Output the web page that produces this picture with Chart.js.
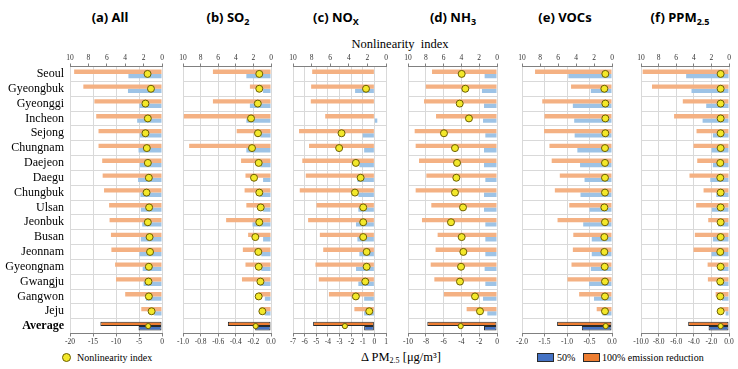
<!DOCTYPE html>
<html><head><meta charset="utf-8">
<script src="https://cdn.jsdelivr.net/npm/chart.js@4.4.1/dist/chart.umd.min.js"></script>
<style>
html,body{margin:0;padding:0;background:#fff;}
#wrap{position:relative;width:738px;height:369px;overflow:hidden;background:#fff;}
canvas{position:absolute;}
.t{position:absolute;white-space:nowrap;line-height:1;}
.title{font-family:'Noto Sans',sans-serif;font-weight:bold;font-size:13px;transform:translate(-50%,-50%);color:#000;}
.title sub{font-size:9px;vertical-align:-3px;line-height:0;}
.serif{font-family:'Liberation Serif',serif;color:#000;}
.mid{transform:translate(-50%,-50%);}
.vmid{transform:translateY(-50%);}
</style></head><body>
<div id="wrap">
  <div class="t title" style="left:110px;top:17px">(a) All</div>
  <div class="t title" style="left:228px;top:17px">(b) SO<sub>2</sub></div>
  <div class="t title" style="left:336px;top:17px">(c) NO<sub>X</sub></div>
  <div class="t title" style="left:453px;top:17px">(d) NH<sub>3</sub></div>
  <div class="t title" style="left:565px;top:17px">(e) VOCs</div>
  <div class="t title" style="left:680px;top:17px">(f) PPM<sub>2.5</sub></div>
  <div class="t serif mid" style="left:400px;top:44px;font-size:12.5px">Nonlinearity&nbsp; index</div>
  <div class="t serif mid" style="left:401px;top:357px;font-size:12.5px">Δ PM<sub style="font-size:8px;vertical-align:-2px;line-height:0">2.5</sub> [μg/m³]</div>
  <div class="t" style="left:62px;top:353px;width:7px;height:7px;border-radius:50%;background:#f3e82a;border:1px solid #6b5e00"></div>
  <div class="t serif vmid" style="left:77px;top:357.5px;font-size:10px">Nonlinearity index</div>
  <div class="t" style="left:537px;top:353px;width:15px;height:7px;background:#4472C4;border:1px solid #2a2a2a"></div>
  <div class="t serif vmid" style="left:557px;top:357.5px;font-size:10px">50%</div>
  <div class="t" style="left:583px;top:353px;width:15px;height:7px;background:#ED7D31;border:1px solid #2a2a2a"></div>
  <div class="t serif vmid" style="left:602px;top:357.5px;font-size:10px">100% emission reduction</div>
</div>
<script>
const regions = ['Seoul','Gyeongbuk','Gyeonggi','Incheon','Sejong','Chungnam','Daejeon','Daegu','Chungbuk','Ulsan','Jeonbuk','Busan','Jeonnam','Gyeongnam','Gwangju','Gangwon','Jeju','Average'];

const niTicks = [0,2,4,6,8,10];

const allFull = [-19.1,-17.1,-14.7,-14.3,-13.8,-13.8,-13.0,-12.9,-12.6,-11.5,-11.4,-11.1,-11.0,-10.2,-10.0,-8.0,-4.5,-13.4];
const allHalf = [-7.3,-7.4,-4.9,-5.4,-4.8,-5.1,-4.8,-5.2,-4.7,-4.6,-4.3,-4.6,-4.9,-4.2,-4.0,-3.5,-1.7,-5.1];
const allNI   = [1.57,1.2,1.8,1.54,1.8,1.65,1.54,1.43,1.68,1.4,1.54,1.35,1.3,1.43,1.47,1.43,1.13,1.5];
const allTicks = [-20,-15,-10,-5,0];

const so2Full = [-0.66,-0.24,-0.66,-0.99,-0.39,-0.93,-0.34,-0.29,-0.30,-0.28,-0.51,-0.26,-0.32,-0.29,-0.33,-0.14,-0.12,-0.49];
const so2Half = [-0.28,-0.09,-0.24,-0.28,-0.12,-0.28,-0.12,-0.09,-0.13,-0.09,-0.21,-0.09,-0.11,-0.11,-0.13,-0.07,-0.07,-0.18];
const so2NI   = [1.33,1.33,1.5,2.27,1.48,2.16,1.4,1.93,1.33,1.17,1.33,1.78,1.44,1.4,1.2,1.4,0.98,1.74];
const so2Ticks = [-1.0,-0.8,-0.6,-0.4,-0.2,0.0];

const noxFull = [-5.35,-5.44,-5.47,-4.23,-6.48,-5.62,-6.2,-5.9,-6.42,-4.98,-5.7,-4.69,-4.4,-5.07,-4.78,-3.91,-1.72,-5.27];
const noxHalf = [0.05,-1.66,0.05,0.25,-1.0,-0.88,-1.29,-1.46,-1.38,-1.38,-1.58,-1.46,-1.29,-1.58,-1.38,-0.88,-0.88,-0.88];
const noxNI   = [null,2.15,null,null,4.78,5.04,3.24,2.73,3.34,2.45,2.45,2.45,2.08,2.08,2.23,3.24,1.8,4.42];
const noxTicks = [-7,-6,-5,-4,-3,-2,-1,0,1];

const nh3Full = [-7.3,-8.0,-8.2,-6.85,-9.25,-9.14,-8.76,-7.94,-9.14,-7.38,-8.43,-6.67,-6.9,-7.45,-7.04,-5.96,-3.41,-7.83];
const nh3Half = [-1.39,-1.69,-1.46,-1.57,-1.31,-1.46,-1.46,-1.31,-1.46,-1.46,-1.31,-1.31,-1.31,-1.39,-1.31,-1.57,-1.09,-1.46];
const nh3NI   = [3.97,3.56,4.19,3.15,5.96,4.72,4.49,4.57,4.72,3.82,5.17,3.97,3.78,4.04,4.16,2.47,1.91,4.08];
const nh3Ticks = [-10,-8,-6,-4,-2,0];

const vocFull = [-1.71,-0.91,-1.55,-1.50,-1.51,-1.39,-1.34,-1.16,-1.27,-0.95,-1.21,-0.86,-0.87,-0.90,-0.99,-0.73,-0.34,-1.22];
const vocHalf = [-0.97,-0.47,-0.87,-0.84,-0.83,-0.77,-0.71,-0.61,-0.70,-0.50,-0.64,-0.45,-0.45,-0.47,-0.51,-0.40,-0.21,-0.67];
const vocNI   = [0.74,0.85,0.74,0.74,0.74,0.78,0.78,0.78,0.78,0.85,0.78,0.85,0.85,0.81,0.78,0.78,0.78,0.7];
const vocTicks = [-2.0,-1.5,-1.0,-0.5,0.0];

const ppmFull = [-9.81,-8.75,-5.25,-6.24,-3.69,-4.03,-3.61,-4.49,-2.89,-3.73,-2.36,-3.88,-4.03,-2.43,-2.40,-1.52,-0.99,-4.64];
const ppmHalf = [-4.87,-4.26,-2.59,-3.0,-1.83,-1.98,-1.83,-2.13,-1.44,-1.94,-1.25,-1.83,-1.98,-1.22,-1.22,-0.8,-0.38,-2.32];
const ppmNI   = [0.95,0.95,0.95,0.95,0.95,0.95,0.99,0.99,0.95,0.95,0.95,0.95,0.99,0.95,0.99,0.99,0.95,0.95];
const ppmTicks = [-10.0,-8.0,-6.0,-4.0,-2.0,0.0];

const panels = [
  {full: allFull, half: allHalf, ni: allNI, ticks: allTicks, dec: 0, plotL: 70, plotR: 162, labels: true},
  {full: so2Full, half: so2Half, ni: so2NI, ticks: so2Ticks, dec: 1, plotL: 183, plotR: 271},
  {full: noxFull, half: noxHalf, ni: noxNI, ticks: noxTicks, dec: 0, plotL: 293, plotR: 386},
  {full: nh3Full, half: nh3Half, ni: nh3NI, ticks: nh3Ticks, dec: 0, plotL: 408, plotR: 497},
  {full: vocFull, half: vocHalf, ni: vocNI, ticks: vocTicks, dec: 1, plotL: 522, plotR: 612},
  {full: ppmFull, half: ppmHalf, ni: ppmNI, ticks: ppmTicks, dec: 1, plotL: 641, plotR: 729}
];

const wrap = document.getElementById('wrap');
const LAST = regions.length - 1;
const SERIF = "'Liberation Serif', 'Times New Roman', serif";
const gridC = '#d9d9d9', axisC = '#808080', tickTxt = '#333333';

function makePanel(p) {
  const cv = document.createElement('canvas');
  const left = p.labels ? 0 : p.plotL - 20;
  const yW = p.plotL - left;
  const padR = Math.min(14, 738 - p.plotR);
  const w = p.plotR + padR - left;
  const H = 310;
  cv.width = w; cv.height = H;
  cv.style.left = left + 'px'; cv.style.top = '40px';
  cv.style.width = w + 'px'; cv.style.height = H + 'px';
  wrap.appendChild(cv);

  new Chart(cv, {
    type: 'bar',
    data: {
      labels: regions,
      datasets: [
        {
          type: 'line', label: 'Nonlinearity index', data: p.ni,
          indexAxis: 'y', xAxisID: 'x2', yAxisID: 'y', showLine: false, order: 0,
          pointRadius: c => c.dataIndex === LAST ? 2.6 : 3.5,
          pointBackgroundColor: '#f3e82a', pointBorderColor: '#6b5e00', pointBorderWidth: 1
        },
        {
          label: '100% emission reduction', data: p.full, xAxisID: 'x', yAxisID: 'y', order: 1,
          backgroundColor: c => c.dataIndex === LAST ? '#ED7D31' : '#F4B183',
          borderColor: '#2a2a2a', borderWidth: c => c.dataIndex === LAST ? 1 : 0, borderSkipped: false
        },
        {
          label: '50%', data: p.half, xAxisID: 'x', yAxisID: 'y', order: 1,
          backgroundColor: c => c.dataIndex === LAST ? '#4472C4' : '#9DC3E6',
          borderColor: '#2a2a2a', borderWidth: c => c.dataIndex === LAST ? 1 : 0, borderSkipped: false
        }
      ]
    },
    options: {
      indexAxis: 'y', responsive: false, animation: false, devicePixelRatio: 1,
      layout: {padding: {left: 0, right: padR, top: 0, bottom: 0}},
      plugins: {legend: {display: false}, tooltip: {enabled: false}},
      datasets: {bar: {categoryPercentage: 0.58, barPercentage: 1.0}},
      scales: {
        y: {
          type: 'category', offset: true,
          grid: {color: gridC, drawTicks: false, offset: true},
          border: {display: false},
          ticks: {
            display: !!p.labels, autoSkip: false, padding: 6, color: '#000',
            font: c => ({family: SERIF, size: 12, weight: c.index === LAST ? 'bold' : 'normal'})
          },
          afterFit: s => { s.width = yW; }
        },
        x: {
          type: 'linear', position: 'bottom', axis: 'x',
          min: p.ticks[0], max: p.ticks[p.ticks.length - 1],
          afterBuildTicks: s => { s.ticks = p.ticks.map(v => ({value: v})); },
          ticks: {autoSkip: false, maxRotation: 0, padding: 1, color: tickTxt,
                  font: {family: SERIF, size: 7.5},
                  callback: v => Number(v).toFixed(p.dec)},
          grid: {color: gridC, tickColor: axisC, tickLength: 3},
          border: {color: axisC},
          afterFit: s => { s.height = 16.5; }
        },
        x2: {
          type: 'linear', position: 'top', axis: 'x', reverse: true,
          min: niTicks[0], max: niTicks[niTicks.length - 1],
          afterBuildTicks: s => { s.ticks = niTicks.map(v => ({value: v})); },
          ticks: {autoSkip: false, maxRotation: 0, padding: 1, color: tickTxt,
                  font: {family: SERIF, size: 7.5},
                  callback: v => String(v)},
          grid: {drawOnChartArea: false, tickColor: axisC, tickLength: 3},
          border: {color: axisC},
          afterFit: s => { s.height = 26.5; }
        }
      }
    }
  });
}

panels.forEach(makePanel);
</script>
</body></html>
